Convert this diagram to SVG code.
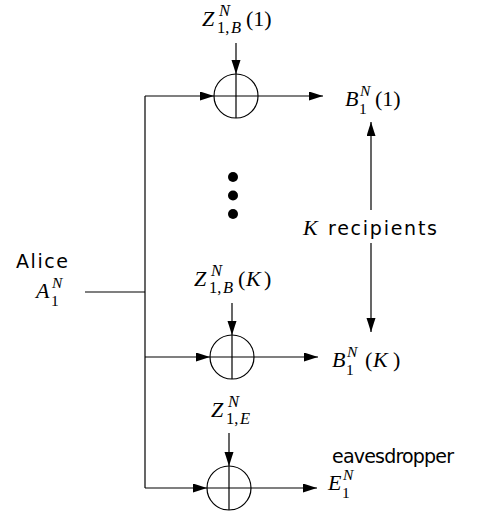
<svg xmlns="http://www.w3.org/2000/svg" width="482" height="513" viewBox="0 0 482 513">
<style>
.ln{stroke:#000;stroke-width:1.2;fill:none}
.ar{stroke:#000;stroke-width:1.2;fill:none;marker-end:url(#ah)}
.sum{stroke:#000;stroke-width:1.2;fill:#fff}
.m{font-family:"Liberation Serif",serif;font-size:22px;fill:#000}
.i{font-style:italic}
.s{font-size:16.5px}
.t{font-size:15.5px}
.tx{font-family:"DejaVu Sans",sans-serif;font-size:19px;fill:#000}
</style>
<defs>
<marker id="ah" markerUnits="userSpaceOnUse" markerWidth="15" markerHeight="10" refX="14" refY="4.5" orient="auto">
<path d="M0,0 L14,4.5 L0,9 z" fill="#000"/>
</marker>
</defs>
<g id="connectors">
<path class="ln" d="M145,96 V488"/>
<path class="ln" d="M85,292 H145"/>
<path class="ar" d="M145,96 H214"/>
<path class="ar" d="M258,96 H323"/>
<path class="ar" d="M236,43 V74"/>
<path class="ar" d="M145,357 H210"/>
<path class="ar" d="M254,357 H318"/>
<path class="ar" d="M232,303 V335"/>
<path class="ar" d="M145,488 H207"/>
<path class="ar" d="M251,488 H317"/>
<path class="ar" d="M229,433 V466"/>
<path class="ar" d="M371,210 V122"/>
<path class="ar" d="M371,243 V332"/>
</g>
<g id="alice">
<text class="tx" x="16" y="268" textLength="52" lengthAdjust="spacing">Alice</text>
<text class="m"><tspan class="i" x="36" y="298">A</tspan><tspan class="i t" x="52" y="288">N</tspan><tspan class="t" x="51" y="306">1</tspan></text>
</g>
<g id="adder1">
<circle class="sum" cx="236" cy="96" r="22"/>
<path class="ln" d="M214,96 H258 M236,74 V118"/>
<text class="m"><tspan class="i" x="202" y="26">Z</tspan><tspan class="i s" x="219" y="16">N</tspan><tspan class="s" x="217" y="33">1,</tspan><tspan class="i s" x="231" y="33">B</tspan><tspan x="246" y="26">(1)</tspan></text>
</g>
<g id="recipient1">
<text class="m"><tspan class="i" x="345" y="106">B</tspan><tspan class="i t" x="360" y="96">N</tspan><tspan class="t" x="359" y="114">1</tspan><tspan x="375" y="106">(1)</tspan></text>
</g>
<g id="dots">
<circle cx="233" cy="177" r="5" fill="#000"/>
<circle cx="233" cy="195.5" r="5" fill="#000"/>
<circle cx="233" cy="214" r="5" fill="#000"/>
</g>
<g id="recipients-label">
<text class="m i" x="303" y="235">K</text>
<text class="tx" x="328" y="235" textLength="109" lengthAdjust="spacing">recipients</text>
</g>
<g id="adderK">
<circle class="sum" cx="232" cy="357" r="22"/>
<path class="ln" d="M210,357 H254 M232,335 V379"/>
<text class="m"><tspan class="i" x="194" y="286">Z</tspan><tspan class="i s" x="211" y="276">N</tspan><tspan class="s" x="209" y="293">1,</tspan><tspan class="i s" x="223" y="293">B</tspan><tspan x="238" y="286">(</tspan><tspan class="i" x="246" y="286">K</tspan><tspan x="264" y="286">)</tspan></text>
</g>
<g id="recipientK">
<text class="m"><tspan class="i" x="332" y="367">B</tspan><tspan class="i t" x="347" y="357">N</tspan><tspan class="t" x="346" y="375">1</tspan><tspan x="365" y="367">(</tspan><tspan class="i" x="373" y="367">K</tspan><tspan x="393" y="367">)</tspan></text>
</g>
<g id="adderE">
<circle class="sum" cx="229" cy="488" r="22"/>
<path class="ln" d="M207,488 H251 M229,466 V510"/>
<text class="m"><tspan class="i" x="211" y="417">Z</tspan><tspan class="i s" x="228" y="407">N</tspan><tspan class="s" x="226" y="424">1,</tspan><tspan class="i s" x="240" y="424">E</tspan></text>
</g>
<g id="eavesdropper">
<text class="tx" x="332" y="463" textLength="122" lengthAdjust="spacing">eavesdropper</text>
<text class="m"><tspan class="i" x="328" y="490">E</tspan><tspan class="i t" x="343" y="480">N</tspan><tspan class="t" x="342" y="498">1</tspan></text>
</g>
</svg>
